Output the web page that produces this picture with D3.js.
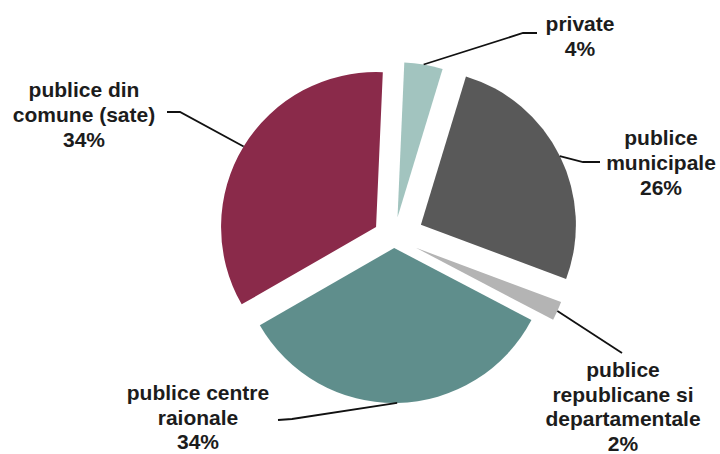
<!DOCTYPE html>
<html lang="ro">
<head>
<meta charset="UTF-8">
<title>Pie</title>
<script src="https://cdn.jsdelivr.net/npm/d3@7"></script>
<style>
  body { margin: 0; background: #fff; }
  .lbl { font-family: "Liberation Sans", Arial, sans-serif; font-weight: bold; font-size: 21px; fill: #1c1c1c; }
</style>
</head>
<body>
<script>
// data
const categories = ["private", "publice municipale", "publice republicane si departamentale", "publice centre raionale", "publice din comune (sate)"];
const labelLines = [["private"], ["publice", "municipale"], ["publice", "republicane si", "departamentale"], ["publice centre", "raionale"], ["publice din", "comune (sate)"]];
const values = [4, 26, 2, 34, 34];
const colors = ["#a2c4bf", "#595959", "#b4b4b4", "#5f8e8c", "#8a2a4a"];

// layout
const w = 720, h = 454;
const cx = 394, cy = 238, radius = 155;
const explode = [21, 30, 24, 10, 21];
const startDeg = 2.5;
const lineH = 25;
// text centre x, first baseline y, leader end (at label) and elbow
const labelLayout = [
  {x: 580, y: 31, lx: 537, ly: 33, ex: 523, ey: 33},
  {x: 661, y: 145, lx: 600, ly: 162, ex: 583, ey: 162},
  {x: 623, y: 377, lx: 622, ly: 353, ex: 622, ey: 353},
  {x: 198, y: 400, lx: 278, ly: 420, ex: 292, ey: 419},
  {x: 84, y: 97, lx: 167, ly: 112, ex: 180, ey: 112}
];

const data = categories.map((c, i) => ({name: c, value: values[i], i: i}));

const svg = d3.select("body").append("svg")
  .attr("width", w)
  .attr("height", h);

const start = startDeg * Math.PI / 180;
const pie = d3.pie().value(d => d.value).sort(null)
  .startAngle(start).endAngle(start + 2 * Math.PI);
const arcs = pie(data);

const arc = d3.arc().innerRadius(0).outerRadius(radius);

// offset of every slice along its middle angle
function shift(d) {
  const a = (d.startAngle + d.endAngle) / 2;
  const e = explode[d.data.i];
  return [cx + e * Math.sin(a), cy - e * Math.cos(a)];
}

svg.selectAll("path.slice")
  .data(arcs)
  .enter()
  .append("path")
  .attr("class", "slice")
  .attr("d", arc)
  .attr("fill", d => colors[d.data.i])
  .attr("transform", d => `translate(${shift(d)})`);

// leader lines from the rim of the slice to the label
svg.selectAll("polyline.leader")
  .data(arcs)
  .enter()
  .append("polyline")
  .attr("class", "leader")
  .attr("fill", "none")
  .attr("stroke", "#111")
  .attr("stroke-width", 1.8)
  .attr("points", d => {
    const a = (d.startAngle + d.endAngle) / 2;
    const [ox, oy] = shift(d);
    const px = ox + radius * Math.sin(a), py = oy - radius * Math.cos(a);
    const L = labelLayout[d.data.i];
    return [[px, py], [L.ex, L.ey], [L.lx, L.ly]].map(p => p.join(",")).join(" ");
  });

// labels
const labels = svg.selectAll("text.lbl")
  .data(arcs)
  .enter()
  .append("text")
  .attr("class", "lbl")
  .attr("text-anchor", "middle");

labels.each(function(d) {
  const L = labelLayout[d.data.i];
  const lines = labelLines[d.data.i].concat([d.data.value + "%"]);
  d3.select(this).selectAll("tspan")
    .data(lines)
    .enter()
    .append("tspan")
    .attr("x", L.x)
    .attr("y", (t, k) => L.y + k * (L.y > 300 ? 24.5 : lineH))
    .text(t => t);
});
</script>
</body>
</html>
